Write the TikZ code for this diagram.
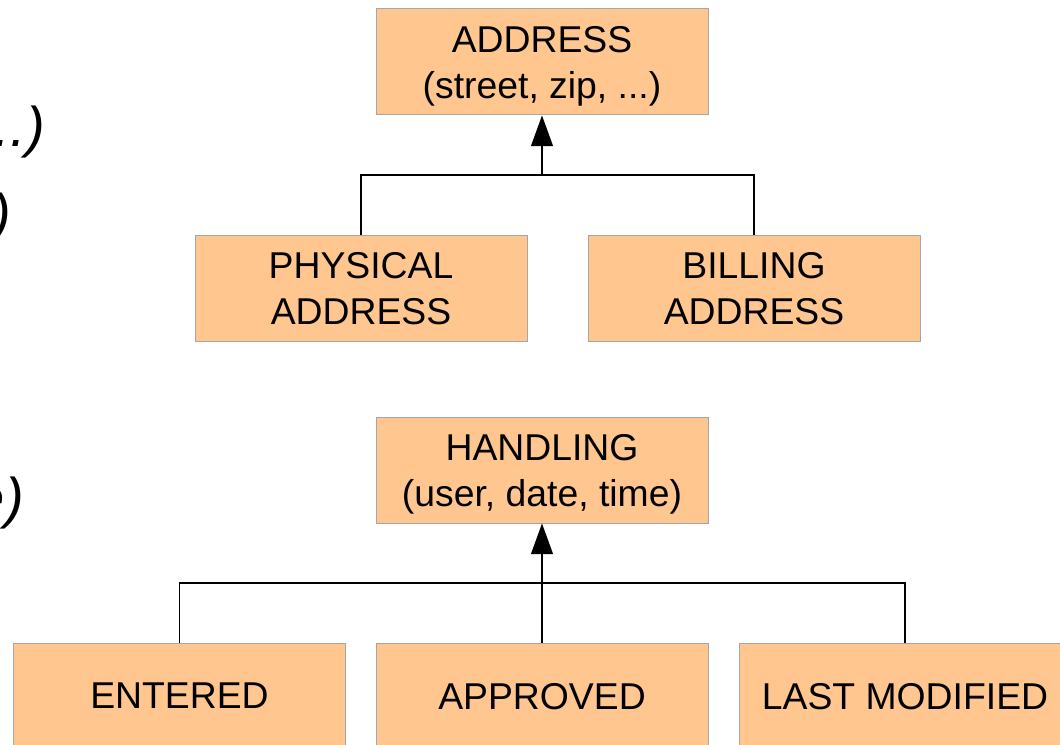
\documentclass[tikz,border=0pt]{standalone}
\usepackage{fontspec}
\setmainfont{Liberation Sans}
\usetikzlibrary{arrows.meta}
\begin{document}
\begin{tikzpicture}[x=0.75pt,y=-0.75pt]
            \tikzstyle{boite}=[rectangle,draw=black!35,line width=0.75pt,fill=orange!30!white!80!orange,
                minimum width=249pt,minimum height=79.5pt,align=center,inner sep=0pt,text depth=0pt,
                font=\fontsize{28}{34.5}\selectfont]
            \tikzstyle{lien}=[line width=0.9pt]
            \tikzstyle{fleche}=[lien,-{Triangle[width=16.5pt,length=23pt]}]
            \tikzstyle{bout}=[anchor=base east,inner sep=0pt,font=\fontsize{42}{50}\selectfont\itshape]
            \useasboundingbox (0,0) rectangle (1060,745);
            \clip (0,0) rectangle (1060,745);
            % fins de lignes du texte de gauche
            \node[bout] (t1) at (45,147) {...)};
            \node[bout] (t2) at (11,234) {)};
            \node[bout] (t3) at (24,517) {e)};
            % adresses
            \node[boite] (adresse) at (542,62) {ADDRESS\\(street, zip, ...)};
            \node[boite] (physique) at (361,288.5) {PHYSICAL\\ADDRESS};
            \node[boite] (facture) at (754,288.5) {BILLING\\ADDRESS};
            \coordinate (j1) at (542,175);
            \draw[lien] (physique.north) |- (j1);
            \draw[lien] (facture.north) |- (j1);
            \draw[fleche] (j1) -- (adresse.south);
            % traitement
            \node[boite] (traitement) at (542,470) {HANDLING\\(user, date, time)};
            \node[boite] (entre) at (179.5,696) {ENTERED};
            \node[boite] (approuve) at (542,696) {APPROVED};
            \node[boite] (modifie) at (905,696) {LAST MODIFIED};
            \coordinate (j2) at (542,583);
            \draw[lien] (entre.north) |- (j2);
            \draw[lien] (modifie.north) |- (j2);
            \draw[lien] (approuve.north) -- (j2);
            \draw[fleche] (j2) -- (traitement.south);
        \end{tikzpicture}
\end{document}
